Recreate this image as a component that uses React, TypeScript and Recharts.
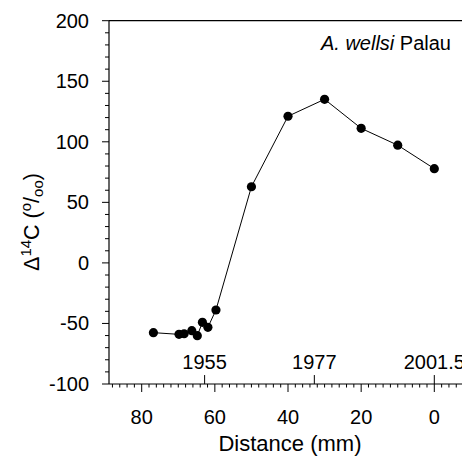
import React from 'react';
import { LineChart, Line, XAxis, YAxis, ReferenceLine, Customized } from 'recharts';

const distance = [76.8, 69.8, 68.4, 66.3, 64.8, 63.4, 61.9, 59.7, 50, 40, 30, 20, 10, 0];
const delta14C = [-57.6, -59.0, -58.5, -56.0, -60.1, -49.1, -53.2, -38.9, 62.9, 121.1, 135.1, 111.1, 97.2, 77.8];

const xTicks = [88, 86, 84, 82, 80, 78, 76, 74, 72, 70, 68, 66, 64, 62, 60, 58, 56, 54, 52, 50, 48, 46, 44, 42, 40, 38, 36, 34, 32, 30, 28, 26, 24, 22, 20, 18, 16, 14, 12, 10, 8, 6, 4, 2, 0, -2, -4, -6];
const xMajor = [80, 60, 40, 20, 0];
const yTicks = [-100, -90, -80, -70, -60, -50, -40, -30, -20, -10, 0, 10, 20, 30, 40, 50, 60, 70, 80, 90, 100, 110, 120, 130, 140, 150, 160, 170, 180, 190, 200];
const yMajor = [-100, -50, 0, 50, 100, 150, 200];

const yearLabels = ['1955', '1977', '2001.5'];
const yearDistance = [62.8, 32.8, 0];

const seriesName = 'A. wellsi';
const siteName = 'Palau';

const data = distance.map((d, i) => ({ d, v: delta14C[i] }));

const FONT = 'Liberation Sans, Arial, Helvetica, sans-serif';

const XTick = (props: any) => {
  const { x, y, payload } = props;
  const major = xMajor.includes(payload.value);
  return (
    <g>
      <line x1={x} x2={x} y1={y} y2={y + (major ? 8 : 3.5)} stroke="#000" strokeWidth={1} />
      {major && (
        <text x={x} y={y + 39.5} textAnchor="middle" fontSize={20} fontFamily={FONT} fill="#000">
          {payload.value}
        </text>
      )}
    </g>
  );
};

const YTick = (props: any) => {
  const { x, y, payload } = props;
  const major = yMajor.includes(payload.value);
  return (
    <g>
      <line x1={x - (major ? 7 : 4)} x2={x} y1={y} y2={y} stroke="#000" strokeWidth={1} />
      {major && (
        <text x={x - 20} y={y} dy="0.35em" textAnchor="end" fontSize={20} fontFamily={FONT} fill="#000">
          {payload.value}
        </text>
      )}
    </g>
  );
};

const makeYearLabel = (text: string) => (props: any) => {
  const vb = props.viewBox || {};
  const x = vb.x ?? 0;
  const y = vb.y ?? 0;
  return (
    <text x={x} y={y - 6} textAnchor="middle" fontSize={20} fontFamily={FONT} fill="#000">
      {text}
    </text>
  );
};

const Extras = () => (
  <g>
    <text x={443} y={42} textAnchor="end" fontSize={20} fontFamily={FONT} fill="#000">
      <tspan fontStyle="italic">{seriesName}</tspan>
      <tspan> {siteName}</tspan>
    </text>
    <text x={282} y={443} textAnchor="middle" fontSize={22} fontFamily={FONT} fill="#000">
      Distance (mm)
    </text>
    <text
      x={31}
      y={214}
      textAnchor="middle"
      fontSize={21.5}
      fontFamily={FONT}
      fill="#000"
      transform="rotate(-90, 31, 214)"
    >
      <tspan>Δ</tspan>
      <tspan dy={-8} fontSize={15}>14</tspan>
      <tspan dy={8}>C (</tspan>
      <tspan dy={-8} fontSize={15}>o</tspan>
      <tspan dy={8}>/</tspan>
      <tspan dy={4} fontSize={15}>oo</tspan>
      <tspan dy={-4}>)</tspan>
    </text>
  </g>
);

export default function App() {
  return (
    <div style={{ position: 'absolute', left: 8, top: 8, width: 454, height: 452, overflow: 'hidden' }}>
      <LineChart width={454} height={452} data={data} margin={{ top: 12.7, right: 0, bottom: 0, left: 0 }}>
        <XAxis
          type="number"
          dataKey="d"
          domain={[-7.57, 88.94]}
          reversed
          allowDataOverflow
          ticks={xTicks}
          interval={0}
          tick={XTick}
          tickLine={false}
          tickSize={0}
          tickMargin={0}
          height={76}
          axisLine={{ stroke: '#000', strokeWidth: 1.2 }}
        />
        <YAxis
          type="number"
          domain={[-100, 200]}
          allowDataOverflow
          ticks={yTicks}
          interval={0}
          tick={YTick}
          tickLine={false}
          tickSize={0}
          tickMargin={0}
          width={101}
          axisLine={{ stroke: '#000', strokeWidth: 1.2 }}
        />
        <ReferenceLine y={200} stroke="#000" strokeWidth={1.2} />
        {yearDistance.map((yd, i) => (
          <ReferenceLine
            key={yearLabels[i]}
            segment={[{ x: yd, y: -100 }, { x: yd, y: -92.6 }]}
            stroke="#000"
            strokeWidth={1}
            label={makeYearLabel(yearLabels[i])}
          />
        ))}
        <Line
          type="linear"
          dataKey="v"
          stroke="#000"
          strokeWidth={1}
          dot={{ r: 4.6, fill: '#000', stroke: '#000', strokeWidth: 0 }}
          isAnimationActive={false}
        />
        <Customized component={Extras} />
      </LineChart>
    </div>
  );
}
